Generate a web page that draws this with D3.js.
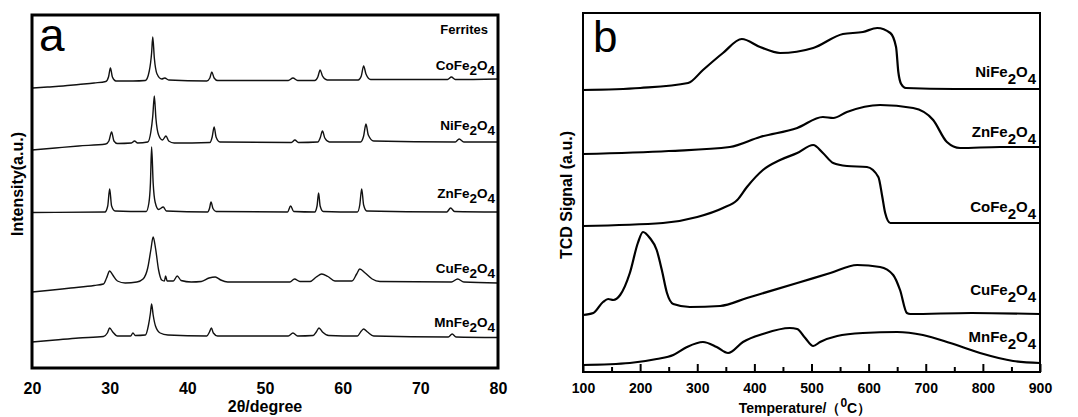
<!DOCTYPE html>
<html>
<head>
<meta charset="utf-8">
<script src="https://cdn.jsdelivr.net/npm/d3@7"></script>
<style>
  body { margin: 0; background: #fff; }
  text { font-family: "Liberation Sans", Arial, sans-serif; fill: #000; }
</style>
</head>
<body>
<svg id="chart"></svg>
<script>
// ---- data ----
const ferrites = ['Co', 'Ni', 'Zn', 'Cu', 'Mn'];

// (a) XRD patterns: [2theta, intensity a.u. incl. stacking offset]
const coFeXRD = [[20,280],[22,281],[24,282],[26,283.5],[28,285],[29.5,286.5],[29.85,291],[30.1,300],[30.35,291],[30.8,287],
  [33,287],[34.6,287.5],[35.1,297],[35.4,315],[35.55,331],[35.75,310],[36.1,294],[36.7,289],[37.1,290],[37.6,288],
  [42.5,287],[42.9,290],[43.15,296],[43.45,290],[43.9,287.5],[53,287.5],[53.6,290],[54.2,287.5],
  [56.4,287.5],[56.8,291],[57.1,298],[57.4,292],[58,288],[62,288],[62.4,292],[62.7,302],[63,294],[63.6,288.5],
  [73.5,288.5],[74,291],[74.5,288.5],[80,289]];
const niFeXRD = [[20,218],[23,220],[26,222],[29.5,224],[29.9,227],[30.25,236],[30.55,227],[31,224.5],
  [32.8,225],[33.2,227],[33.6,225],[34.9,226],[35.3,236],[35.55,252],[35.75,272],[35.95,250],[36.3,233],[36.8,228],[37.25,232],[37.6,227],[38.3,225],
  [42.9,225.5],[43.2,231],[43.45,241],[43.7,231],[44.2,226],[53.4,225.5],[53.85,228],[54.3,225.5],
  [56.8,226],[57.1,230],[57.4,237],[57.7,230],[58.3,226],[62.3,226],[62.7,232],[63.0,244],[63.3,233],[64,227],
  [74.5,226],[75,229],[75.6,226],[80,226]];
const znFeXRD = [[20,155.5],[29.4,156],[29.75,162],[30.0,179],[30.25,162],[30.7,157],
  [34.7,156.5],[35.05,165],[35.25,185],[35.4,221],[35.6,185],[35.85,166],[36.3,158.5],[36.9,161],[37.3,157],
  [42.6,156],[42.85,159.5],[43.05,166],[43.3,159.5],[43.7,156.5],[52.9,156],[53.3,162],[53.7,156.5],
  [56.4,156],[56.7,162],[56.9,175],[57.1,162],[57.5,156.5],[61.9,156],[62.2,163],[62.45,179],[62.7,163],[63.1,157],
  [73.4,156],[73.9,160],[74.4,156.5],[80,156]];
const cuFeXRD = [[20,76],[22,77.5],[25,80],[28,82.5],[29.2,84],[29.6,90],[30.0,97],[30.4,93],[31.0,87],[32,85],
  [33.5,86],[34.3,89],[34.9,100],[35.3,118],[35.6,131],[35.9,120],[36.3,98],[36.7,88],[37.05,87],[37.2,92],[37.4,87],[38.2,87],[38.7,92],[39.2,87.5],[40.5,86],
  [41.8,86.5],[42.8,90],[43.6,91],[44.3,88],[45.2,86],[53.2,86],[53.8,89],[54.5,86.5],
  [55.8,86.5],[56.6,91],[57.3,94],[58.1,91.5],[59,87],[61.2,87],[61.8,94],[62.2,99],[62.9,95],[63.8,89],[64.8,86.5],
  [74,86],[74.8,89],[75.6,86],[80,85]];
const mnFeXRD = [[20,26],[23,28],[26,30],[29.2,31.5],[29.7,35],[30.0,40],[30.4,36],[31,32],
  [32.7,32],[33.0,35],[33.3,32.5],[34.6,33],[35.0,43],[35.25,55],[35.4,64],[35.6,53],[35.9,42],[36.5,35],[37.5,33],
  [42.5,32],[42.85,36],[43.1,40],[43.35,35],[43.9,32],[53,32],[53.6,35],[54.2,32],
  [56.2,32.5],[56.6,36],[56.95,40],[57.4,36],[58.2,32.5],[61.9,32],[62.4,37],[62.7,39],[63.2,36],[64,32],
  [73.6,31],[74.1,34],[74.6,31],[80,30.5]];

// (b) H2-TPR profiles: [temperature degC, TCD signal a.u. incl. offset]
const niFeTPR = [[100,282],[200,284],[284,289],[310,302],[345,319],[378,333],[410,325],[445,319],[503,324],[555,338],
  [590,340],[615,344],[638,339],[648,325],[652,300],[657,288],[665,284],[750,283],[900,283]];
const znFeTPR = [[100,218],[250,221],[357,225],[410,235],[475,244],[520,255],[538,254],[562,260],[620,267],
  [678,264],[713,252],[737,230],[760,224],[830,225],[900,225]];
const coFeTPR = [[100,146],[240,149],[300,155],[345,164],[370,172],[387,185],[415,202],[445,212],[475,219],[503,227],
  [520,219],[538,209],[562,206],[597,205],[617,195],[624,175],[629,159],[638,149],[700,149],[900,149]];
const cuFeTPR = [[100,57],[118,59],[135,70],[144,73],[153,72],[165,77],[182,99],[196,129],[205,140],[217,134],[229,122],
  [238,102],[247,79],[258,68],[287,65],[340,66],[387,74],[475,89],[533,99],[580,107],[620,105],[643,97],[655,82],
  [667,59],[673,58],[780,59],[900,58]];
const mnFeTPR = [[100,7],[182,9],[229,13],[258,17],[282,25],[310,30],[334,25],[354,19],[380,30],[415,38],[462,44],
  [475,43],[489,34],[503,26],[515,30],[545,36],[590,39],[650,40],[695,37],[743,29],[795,19],[853,11],[900,9]];

const xrdSeries = [coFeXRD, niFeXRD, znFeXRD, cuFeXRD, mnFeXRD];
const tprSeries = [niFeTPR, znFeTPR, coFeTPR, cuFeTPR, mnFeTPR];
const tprOrder = ['Ni', 'Zn', 'Co', 'Cu', 'Mn'];
const xrdTicks = [20, 30, 40, 50, 60, 70, 80];
const tprTicks = [100, 200, 300, 400, 500, 600, 700, 800, 900];
const tprMinorTicks = [150, 250, 350, 450, 550, 650, 750, 850];

// ---- drawing ----
const width = 1078, height = 417;
const svg = d3.select('#chart').attr('width', width).attr('height', height);

// panel a
const ax = { left: 32, right: 498, top: 15, bottom: 368 };
const xA = d3.scaleLinear().domain([20, 80]).range([ax.left, ax.right]);
const yA = d3.scaleLinear().domain([0, 353]).range([ax.bottom, ax.top]);

const lineA = d3.line().x(d => xA(d[0])).y(d => yA(d[1])).curve(d3.curveMonotoneX);
svg.append('g').selectAll('path')
  .data(xrdSeries).enter().append('path')
  .attr('d', lineA)
  .style('fill', 'none').style('stroke', '#111').style('stroke-width', 1.4);

svg.append('g')
  .attr('transform', `translate(0,${ax.bottom})`)
  .call(d3.axisBottom(xA).tickValues(xrdTicks).tickSize(0).tickPadding(15))
  .call(g => g.select('.domain').remove())
  .selectAll('text').style('font-size', '16px').style('font-weight', 'bold')
  .style('font-family', '"Liberation Sans", Arial, sans-serif').attr('fill', '#000');

svg.append('rect')
  .attr('x', ax.left).attr('y', ax.top)
  .attr('width', ax.right - ax.left).attr('height', ax.bottom - ax.top)
  .style('fill', 'none').style('stroke', '#000').style('stroke-width', 3);

// panel b
const bx = { left: 583, right: 1040, top: 13, bottom: 372 };
const xB = d3.scaleLinear().domain([100, 900]).range([bx.left, bx.right]);
const yB = d3.scaleLinear().domain([0, 359]).range([bx.bottom, bx.top]);

const lineB = d3.line().x(d => xB(d[0])).y(d => yB(d[1])).curve(d3.curveMonotoneX);
svg.append('g').selectAll('path')
  .data(tprSeries).enter().append('path')
  .attr('d', lineB)
  .style('fill', 'none').style('stroke', '#000').style('stroke-width', 2.2);

svg.append('g')
  .attr('transform', `translate(0,${bx.bottom})`)
  .call(d3.axisBottom(xB).tickValues(tprTicks).tickSizeInner(-8).tickSizeOuter(0).tickPadding(11))
  .call(g => g.select('.domain').remove())
  .call(g => g.selectAll('line').attr('stroke', '#000').attr('stroke-width', 2))
  .selectAll('text').style('font-size', '14px').style('font-weight', 'bold')
  .style('font-family', '"Liberation Sans", Arial, sans-serif').attr('fill', '#000');

svg.append('g')
  .attr('transform', `translate(0,${bx.bottom})`)
  .call(d3.axisBottom(xB).tickValues(tprMinorTicks).tickSizeInner(-5).tickSizeOuter(0).tickFormat(''))
  .call(g => g.select('.domain').remove())
  .call(g => g.selectAll('line').attr('stroke', '#000').attr('stroke-width', 2));

svg.append('rect')
  .attr('x', bx.left).attr('y', bx.top)
  .attr('width', bx.right - bx.left).attr('height', bx.bottom - bx.top)
  .style('fill', 'none').style('stroke', '#000').style('stroke-width', 2);

// formula labels like CoFe2O4
function formula(x, y, metal, size, drop) {
  const t = svg.append('text')
    .attr('x', x).attr('y', y)
    .attr('text-anchor', 'end')
    .style('font-size', size + 'px').style('font-weight', 'bold');
  t.append('tspan').text(metal + 'Fe');
  t.append('tspan').attr('dy', drop).text('2');
  t.append('tspan').attr('dy', -drop).text('O');
  t.append('tspan').attr('dy', drop).text('4');
}

const xrdLabelY = [70, 130, 198, 273, 327];
ferrites.forEach((m, i) => formula(495, xrdLabelY[i], m, 13.5, 5));

const tprLabelY = [77, 137, 212, 295, 342];
tprOrder.forEach((m, i) => formula(1036, tprLabelY[i], m, 15, 7));

svg.append('text')
  .attr('x', 488).attr('y', 34).attr('text-anchor', 'end')
  .style('font-size', '13px').style('font-weight', 'bold')
  .text('Ferrites');

// panel letters
svg.append('text').attr('x', 39).attr('y', 51).style('font-size', '46px').text('a');
svg.append('text').attr('x', 593).attr('y', 52).style('font-size', '44px').text('b');

// axis titles
svg.append('text')
  .attr('x', (ax.left + ax.right) / 2).attr('y', 412).attr('text-anchor', 'middle')
  .style('font-size', '16px').style('font-weight', 'bold')
  .text('2θ/degree');

svg.append('text')
  .attr('transform', 'translate(23,184) rotate(-90)').attr('text-anchor', 'middle')
  .style('font-size', '16px').style('font-weight', 'bold')
  .text('Intensity(a.u.)');

const tTitle = svg.append('text')
  .attr('x', 805).attr('y', 413).attr('text-anchor', 'middle')
  .style('font-size', '14px').style('font-weight', 'bold');
tTitle.append('tspan').text('Temperature/（');
tTitle.append('tspan').attr('dy', -6).style('font-size', '12px').text('0');
tTitle.append('tspan').attr('dy', 6).text('C）');

svg.append('text')
  .attr('transform', 'translate(572,195) rotate(-90)').attr('text-anchor', 'middle')
  .style('font-size', '16px').style('font-weight', 'bold')
  .text('TCD Signal (a.u.)');
</script>
</body>
</html>
